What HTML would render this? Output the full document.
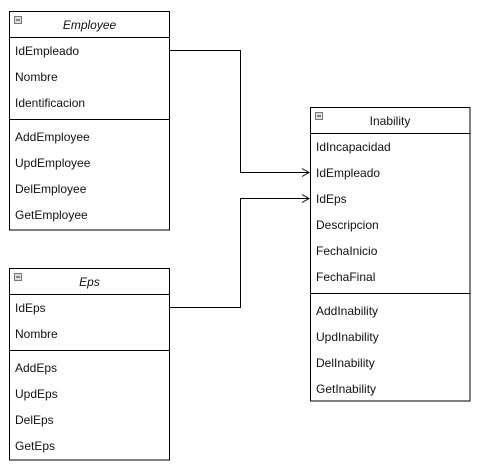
<!DOCTYPE html>
<html><head><meta charset="utf-8"><style>
html,body{margin:0;padding:0;background:#fff;}
svg{display:block;}
text{font-family:"Liberation Sans",Arial,sans-serif;font-size:12px;fill:#111;}
</style></head><body>
<svg width="481" height="473" viewBox="0 0 481 473" xmlns="http://www.w3.org/2000/svg">
<g fill="none" stroke="#000" stroke-width="1">
<rect x="9.5" y="11.5" width="160" height="218.5"/>
<line x1="9.5" y1="37.5" x2="169.5" y2="37.5"/>
<line x1="9.5" y1="119.5" x2="169.5" y2="119.5"/>
<rect x="9.5" y="268.5" width="160" height="191.5"/>
<line x1="9.5" y1="294.5" x2="169.5" y2="294.5"/>
<line x1="9.5" y1="350.5" x2="169.5" y2="350.5"/>
<rect x="310.5" y="107.5" width="159.5" height="293.5"/>
<line x1="310.5" y1="133.5" x2="470" y2="133.5"/>
<line x1="310.5" y1="293.5" x2="470" y2="293.5"/>
<polyline points="170,50.5 240.5,50.5 240.5,172.5 309,172.5"/>
<polyline points="170,307.5 240.5,307.5 240.5,198.5 309,198.5"/>
<polyline points="302,168.5 309,172.5 302,176.5"/>
<polyline points="302,194.5 309,198.5 302,202.5"/>
</g>
<g fill="#ddd" stroke="#777" stroke-width="1">
<rect x="14.5" y="16.5" width="7" height="7"/>
<rect x="14.5" y="273.5" width="7" height="7"/>
<rect x="315.5" y="112.5" width="7" height="7"/>
</g>
<g stroke="#333" stroke-width="1">
<line x1="16" y1="20" x2="20" y2="20"/>
<line x1="16" y1="277" x2="20" y2="277"/>
<line x1="317" y1="116" x2="321" y2="116"/>
</g>
<text x="89.5" y="29" text-anchor="middle" font-style="italic">Employee</text>
<text x="15" y="55">IdEmpleado</text>
<text x="15" y="81">Nombre</text>
<text x="15" y="107">Identificacion</text>
<text x="15" y="141">AddEmployee</text>
<text x="15" y="167">UpdEmployee</text>
<text x="15" y="193">DelEmployee</text>
<text x="15" y="219">GetEmployee</text>

<text x="89.5" y="286" text-anchor="middle" font-style="italic">Eps</text>
<text x="15" y="312">IdEps</text>
<text x="15" y="338">Nombre</text>
<text x="15" y="372">AddEps</text>
<text x="15" y="398">UpdEps</text>
<text x="15" y="424">DelEps</text>
<text x="15" y="450">GetEps</text>

<text x="390" y="125" text-anchor="middle">Inability</text>
<text x="316" y="151">IdIncapacidad</text>
<text x="316" y="177">IdEmpleado</text>
<text x="316" y="203">IdEps</text>
<text x="316" y="229">Descripcion</text>
<text x="316" y="255">FechaInicio</text>
<text x="316" y="281">FechaFinal</text>
<text x="316" y="315">AddInability</text>
<text x="316" y="341">UpdInability</text>
<text x="316" y="367">DelInability</text>
<text x="316" y="393">GetInability</text>
</svg>
</body></html>
